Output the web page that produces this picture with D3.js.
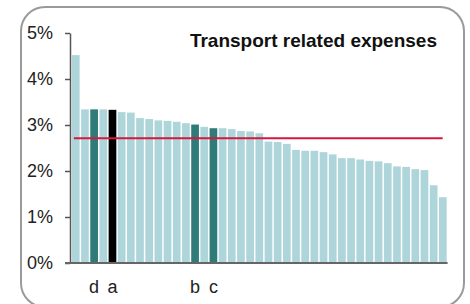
<!DOCTYPE html>
<html>
<head>
<meta charset="utf-8">
<title>Transport related expenses</title>
<script type="text/javascript" src="https://d3js.org/d3.v7.min.js"></script>
<style>
body { margin: 0; background: #fff; }
text { font-family: "Liberation Sans", Arial, sans-serif; }
.axis text { font-size: 18px; fill: #222; }
.axis path, .axis line { stroke: #555; stroke-width: 1.5; }
.cat-label { font-size: 18px; fill: #222; }
.title { font-size: 19px; font-weight: bold; fill: #111; }
</style>
</head>
<body>
<div id="container"></div>
<script>

//------------------------1. DATA-------------------------------//
var labels = ["", "", "d", "", "a", "", "", "", "", "", "", "", "", "b", "", "c", "", "", "", "", "",
              "", "", "", "", "", "", "", "", "", "", "", "", "", "", "", "", "", "", "", ""];
var values = [4.52, 3.34, 3.34, 3.34, 3.33, 3.28, 3.27, 3.15, 3.13, 3.10, 3.09, 3.07, 3.04, 3.01,
              2.96, 2.93, 2.93, 2.91, 2.87, 2.86, 2.82, 2.64, 2.63, 2.59, 2.46, 2.44, 2.44, 2.41,
              2.36, 2.28, 2.28, 2.25, 2.22, 2.21, 2.17, 2.10, 2.09, 2.04, 2.02, 1.69, 1.43];
// 0 = other, 1 = compared, 2 = own
var groups = [0, 0, 1, 0, 2, 0, 0, 0, 0, 0, 0, 0, 0, 1, 0, 1, 0, 0, 0, 0, 0,
              0, 0, 0, 0, 0, 0, 0, 0, 0, 0, 0, 0, 0, 0, 0, 0, 0, 0, 0, 0];
var average = 2.71;
var yTicks = [0, 1, 2, 3, 4, 5];
var title = "Transport related expenses";

var colors = ["#aed6da", "#2f7b7a", "#000000"];

//------------------------2. SVG & SCALES-----------------------//
var width = 470, height = 304;

var svg = d3.select("div#container").append("svg")
    .attr("width", width)
    .attr("height", height);

svg.append("rect")
    .attr("x", 21)
    .attr("y", 7)
    .attr("width", 443)
    .attr("height", 300)
    .attr("rx", 24)
    .attr("ry", 24)
    .style("fill", "#fff")
    .style("stroke", "#9a9a9a")
    .style("stroke-width", 2);

var data = values.map(function(v, i) {
    return { id: i, value: v, label: labels[i], group: groups[i] };
});

var xScale = d3.scaleBand()
    .domain(data.map(function(d) { return d.id; }))
    .range([71, 447.6])
    .paddingInner(0.16)
    .paddingOuter(0.1);

var yScale = d3.scaleLinear()
    .domain([0, 5])
    .range([263, 33]);

//------------------------3. BARS-------------------------------//
svg.append("g")
    .selectAll("rect")
    .data(data)
    .enter()
    .append("rect")
    .attr("x", function(d) { return xScale(d.id); })
    .attr("y", function(d) { return yScale(d.value); })
    .attr("width", xScale.bandwidth())
    .attr("height", function(d) { return yScale(0) - yScale(d.value); })
    .style("fill", function(d) { return colors[d.group]; });

//------------------------4. AXES-------------------------------//
var yaxis = d3.axisLeft(yScale)
    .tickValues(yTicks)
    .tickSize(5)
    .tickSizeOuter(0)
    .tickPadding(12)
    .tickFormat(function(d) { return d + "%"; });

svg.append("g")
    .attr("class", "axis")
    .attr("transform", "translate(70,0)")
    .call(yaxis);

// baseline
svg.append("line")
    .attr("x1", 65)
    .attr("x2", xScale.range()[1])
    .attr("y1", yScale(0))
    .attr("y2", yScale(0))
    .style("stroke", "#666")
    .style("stroke-width", 2);

// average line
svg.append("line")
    .attr("x1", xScale(0) + 2)
    .attr("x2", xScale(values.length - 1) + xScale.bandwidth() - 4)
    .attr("y1", yScale(average))
    .attr("y2", yScale(average))
    .style("stroke", "#d6173e")
    .style("stroke-width", 2);

//------------------------5. LABELS-----------------------------//
svg.append("g")
    .selectAll("text")
    .data(data.filter(function(d) { return d.label !== ""; }))
    .enter()
    .append("text")
    .attr("class", "cat-label")
    .attr("x", function(d) { return xScale(d.id) + xScale.bandwidth() / 2; })
    .attr("y", 293)
    .attr("text-anchor", "middle")
    .text(function(d) { return d.label; });

svg.append("text")
    .attr("class", "title")
    .attr("x", 437)
    .attr("y", 47)
    .attr("text-anchor", "end")
    .text(title);

</script>
</body>
</html>
